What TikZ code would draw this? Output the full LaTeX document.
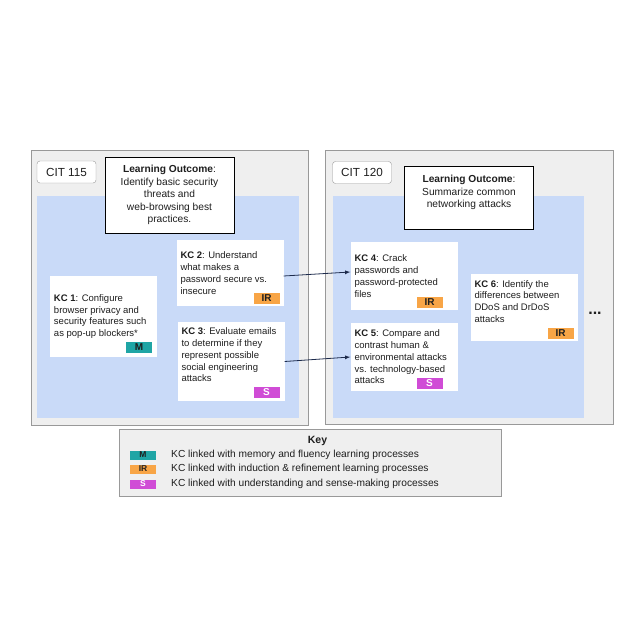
\documentclass[tikz,border=0pt]{standalone}
\usepackage{fontspec}
\setmainfont{Liberation Sans}
\usepackage{tikz}
\usetikzlibrary{positioning}

\definecolor{panel}{HTML}{EFEFEF}
\definecolor{panelline}{HTML}{999999}
\definecolor{kcblue}{HTML}{C9DAF8}
\definecolor{mcol}{HTML}{1FA5A5}
\definecolor{ircol}{HTML}{F8A546}
\definecolor{scol}{HTML}{D04CD6}
\definecolor{linkcol}{HTML}{1D2B4C}
\definecolor{ink}{HTML}{1E1E1E}

\newcommand{\kcpad}[1]{\par\vspace{#1}\hrule height 0pt}

\begin{document}
\begin{tikzpicture}[x=1bp,y=-1bp,text=ink,
  kc/.style={fill=white,text width=99bp,align=flush left,inner xsep=4bp,inner ysep=0pt,font=\fontsize{9.5bp}{11.8bp}\selectfont},
  badge/.style={fill=#1,minimum width=26bp,minimum height=11bp,inner sep=0pt,font=\fontsize{10bp}{10bp}\selectfont\bfseries},
  keybadge/.style={fill=#1,minimum width=26bp,minimum height=9bp,inner sep=0pt,font=\fontsize{8.5bp}{8.5bp}\selectfont\bfseries},
  lo/.style={draw=black,fill=white,text width=118bp,align=flush center,inner xsep=5.5bp,inner ysep=0pt,font=\fontsize{10.2bp}{12.4bp}\selectfont},
  cit/.style={draw=panelline,fill=white,rounded corners=3bp,minimum width=59bp,minimum height=22bp,inner sep=0pt,font=\fontsize{11.7bp}{14bp}\selectfont},
  keytext/.style={anchor=west,inner sep=0pt,font=\fontsize{10.2bp}{12bp}\selectfont}]

\useasboundingbox[fill=white] (0,0) rectangle (636,636);

\draw[panelline,fill=panel] (31,150) rectangle (308,425);
\fill[kcblue] (37,196) rectangle (299,418);
\draw[panelline,fill=panel] (325.5,150) rectangle (613,424);
\fill[kcblue] (333,196) rectangle (584,418);

\node[cit] (cit1) at (66.5,172) {CIT 115};
\node[cit] (cit2) at (362,172.5) {CIT 120};

\node[lo,minimum height=76bp] (lo1) at (169.5,195) {\textbf{Learning Outcome}:\\Identify basic security\\threats and\\web-browsing best\\practices.};
\node[lo,minimum height=63bp] (lo2) at (469,197.5) {\textbf{Learning Outcome}:\\Summarize common\\networking attacks\kcpad{10bp}};

\node[kc,minimum height=81bp] (kc1) at (103.5,316.5) {\textbf{KC 1}: Configure\\browser privacy and\\security features such\\as pop-up blockers*};
\node[kc,minimum height=66bp] (kc2) at (230,273) {\textbf{KC 2}: Understand\\what makes a\\password secure vs.\\insecure};
\node[kc,minimum height=79bp] (kc3) at (231,361.5) {\textbf{KC 3}: Evaluate emails\\to determine if they\\represent possible\\social engineering\\attacks\kcpad{13bp}};
\node[kc,minimum height=68bp] (kc4) at (404,276) {\textbf{KC 4}: Crack\\passwords and\\password-protected\\files};
\node[kc,minimum height=68bp] (kc5) at (404,357) {\textbf{KC 5}: Compare and\\contrast human \&\\environmental attacks\\vs. technology-based\\attacks};
\node[kc,minimum height=67bp] (kc6) at (524,307.5) {\textbf{KC 6}: Identify the\\differences between\\DDoS and DrDoS\\attacks\kcpad{12bp}};

\node[badge=mcol,above left=4bp and 5bp of kc1.south east] (b1) {M};
\node[badge=ircol,above left=2bp and 4bp of kc2.south east] (b2) {IR};
\node[badge=scol,text=white,above left=3bp and 5bp of kc3.south east] (b3) {S};
\node[badge=ircol,above left=2bp and 15bp of kc4.south east] (b4) {IR};
\node[badge=scol,text=white,above left=2bp and 15bp of kc5.south east] (b5) {S};
\node[badge=ircol,above left=2bp and 4bp of kc6.south east] (b6) {IR};

\node[font=\fontsize{16bp}{16bp}\selectfont\bfseries] (more) at (595,313) {...};

\draw[-latex,linkcol,line width=0.8bp] ([yshift=-3bp]kc2.east) -- ([yshift=4bp]kc4.west);
\draw[-latex,linkcol,line width=0.8bp] (kc3.east) -- (kc5.west);

\draw[panelline,fill=panel] (119,429) rectangle (501,496);
\node[font=\fontsize{10.5bp}{12bp}\selectfont\bfseries] (key) at (317.5,441) {Key};
\node[keybadge=mcol] (km) at (143,455) {M};
\node[keybadge=ircol] (kir) at (143,469) {IR};
\node[keybadge=scol,text=white] (ks) at (143,484) {S};
\node[keytext] (tm) at (171,454.5) {KC linked with memory and fluency learning processes};
\node[keytext] (tir) at (171,468.5) {KC linked with induction \& refinement learning processes};
\node[keytext] (ts) at (171,484) {KC linked with understanding and sense-making processes};

\end{tikzpicture}
\end{document}
